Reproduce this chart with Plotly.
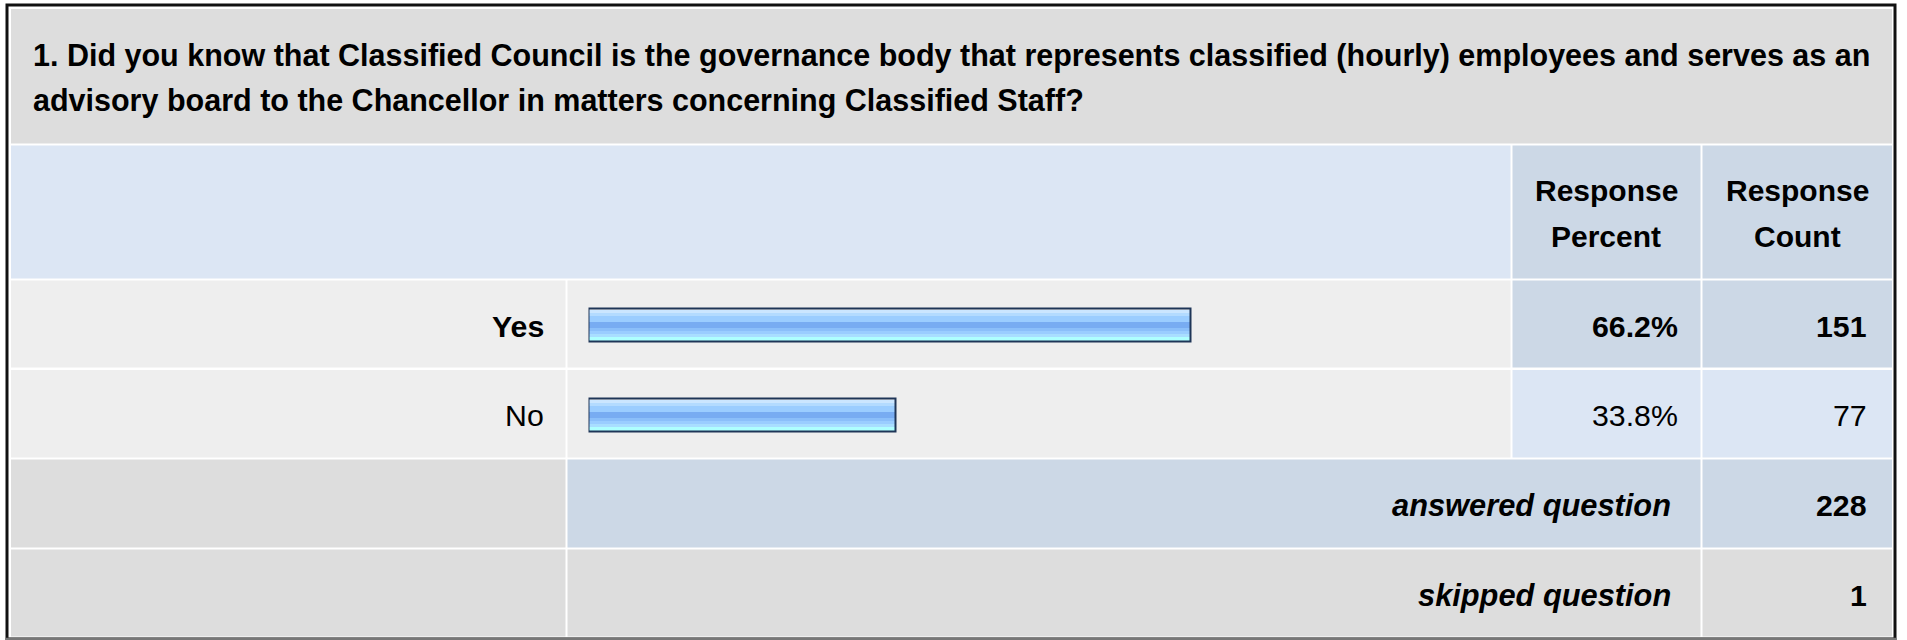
import plotly.graph_objects as go

# Canvas size in pixels
W, H = 1907, 640

# ---- data ----
question_lines = [
    "1. Did you know that Classified Council is the governance body that represents "
    "classified (hourly) employees and serves as an",
    "advisory board to the Chancellor in matters concerning Classified Staff?",
]
header_percent = ["Response", "Percent"]
header_count = ["Response", "Count"]
answer_choices = ["Yes", "No"]
response_percent = [66.2, 33.8]
response_count = [151, 77]
answered_label = "answered question"
skipped_label = "skipped question"
answered_count = 228
skipped_count = 1

FONT = "Liberation Sans, Arial, sans-serif"
FS = 30.3


def px(x):
    return x / W


def py(y):
    return 1 - y / H


shapes = []
annotations = []


def rect(x0, y0, x1, y1, color):
    shapes.append(dict(type="rect", xref="paper", yref="paper",
                       x0=px(x0), x1=px(x1), y0=py(y1), y1=py(y0),
                       fillcolor=color, line=dict(width=0), layer="below"))


def label(s, x, baseline, anchor, bold=False, italic=False, size=FS):
    yc = baseline - 0.35 * size
    annotations.append(dict(
        text=s, x=px(x), y=py(yc), xref="paper", yref="paper",
        xanchor=anchor, yanchor="middle", showarrow=False,
        font=dict(family=FONT, size=size, color="#000000",
                  weight="bold" if bold else "normal",
                  style="italic" if italic else "normal")))


GREY = "#DDDDDD"
LIGHT = "#EEEEEE"
BLUE = "#CCD8E6"
PALE = "#DCE6F4"

# outer frame
rect(5.5, 3.5, 1896.5, 640, "#111111")
rect(8.5, 6.5, 1893.5, 637.5, "#FFFFFF")
rect(5.5, 637.8, 1896.5, 640, "#777777")

# column edges
A0, A1 = 11, 565.5
B0, B1 = 567.5, 1510.5
C0, C1 = 1512.5, 1700.5
D0, D1 = 1702.5, 1892

# rows
rect(A0, 9, D1, 143.5, GREY)                 # question
rect(A0, 145.5, B1, 278.5, PALE)             # header blank
rect(C0, 145.5, C1, 278.5, BLUE)
rect(D0, 145.5, D1, 278.5, BLUE)
row_tops = [280.5, 370]
row_bots = [367.5, 457.5]
for i in range(len(answer_choices)):
    t, b = row_tops[i], row_bots[i]
    rect(A0, t, A1, b, LIGHT)
    rect(B0, t, B1, b, LIGHT)
    fill = BLUE if i == 0 else PALE
    rect(C0, t, C1, b, fill)
    rect(D0, t, D1, b, fill)
rect(A0, 459.5, A1, 547.5, GREY)             # answered
rect(B0, 459.5, C1, 547.5, BLUE)
rect(D0, 459.5, D1, 547.5, BLUE)
rect(A0, 549.5, A1, 636.5, GREY)             # skipped
rect(B0, 549.5, C1, 636.5, GREY)
rect(D0, 549.5, D1, 636.5, GREY)

# ---- text ----
label(question_lines[0], 31, 66, "left", bold=True, size=30.5)
label(question_lines[1], 31, 111, "left", bold=True, size=30.5)
for j, w in enumerate(header_percent):
    label(w, 1606, 201 + 45.7 * j, "center", bold=True, size=30)
for j, w in enumerate(header_count):
    label(w, 1797, 201 + 45.7 * j, "center", bold=True, size=30)

baselines = [337, 426.5]
for i, name in enumerate(answer_choices):
    bold = i == 0
    label(name, 546, baselines[i], "right", bold=bold)
    label(f"{response_percent[i]:.1f}%", 1680, baselines[i], "right", bold=bold)
    label(str(response_count[i]), 1869, baselines[i], "right", bold=bold)

label(answered_label, 1673, 516, "right", bold=True, italic=True, size=30.8)
label(str(answered_count), 1869, 516, "right", bold=True)
label(skipped_label, 1673, 606, "right", bold=True, italic=True, size=30.8)
label(str(skipped_count), 1869, 606, "right", bold=True)

# ---- bars: horizontal stripes give the glossy gradient ----
ROW_PX = 90.0
stripes = [  # (colour, height in px) from top to bottom
    ("#CBE6FF", 3), ("#B3DBFF", 3), ("#9BCDFF", 6), ("#78ACF2", 6),
    ("#8BBFFA", 3), ("#9ACDFF", 3), ("#A9DEFF", 3), ("#AEFFFF", 4),
]
bar_px = 35.0
fig = go.Figure()
off = -bar_px / 2 + 2
for color, h in stripes:
    fig.add_trace(go.Bar(
        x=response_percent, y=answer_choices, orientation="h",
        width=h / ROW_PX, offset=off / ROW_PX,
        marker=dict(color=color, line=dict(width=0)),
        hoverinfo="skip", showlegend=False))
    off += h
fig.add_trace(go.Bar(
    x=response_percent, y=answer_choices, orientation="h",
    width=(bar_px - 2) / ROW_PX, offset=(-bar_px / 2 + 1) / ROW_PX,
    marker=dict(color="rgba(0,0,0,0)", line=dict(color="#1E3557", width=2)),
    hoverinfo="skip", showlegend=False))

fig.update_layout(
    width=W, height=H, margin=dict(l=0, r=0, t=0, b=0),
    paper_bgcolor="#FFFFFF", plot_bgcolor="rgba(0,0,0,0)",
    barmode="overlay", bargap=0,
    shapes=shapes, annotations=annotations,
    xaxis=dict(range=[0, 100], domain=[px(588.5), px(1497.5)], visible=False,
               fixedrange=True),
    yaxis=dict(range=[1.5, -0.5], domain=[py(459.5), py(279.5)], visible=False,
               type="category", categoryorder="array",
               categoryarray=answer_choices, fixedrange=True),
)

fig.write_html("out.html", config={"displayModeBar": False})
